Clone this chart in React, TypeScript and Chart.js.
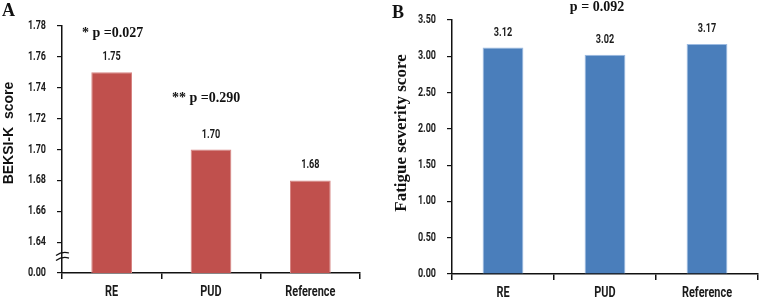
import React, { useEffect, useRef } from 'react';
import { Chart, registerables } from 'chart.js';

Chart.register(...registerables);

// ---- data ----
const categories = ['RE', 'PUD', 'Reference'];
const beksiValues = [1.75, 1.7, 1.68];
const fatigueValues = [3.12, 3.02, 3.17];
const beksiTickValues = [1.62, 1.64, 1.66, 1.68, 1.7, 1.72, 1.74, 1.76, 1.78];
const beksiTickLabels = ['0.00', '1.64', '1.66', '1.68', '1.70', '1.72', '1.74', '1.76', '1.78'];
const fatigueTickValues = [0, 0.5, 1, 1.5, 2, 2.5, 3, 3.5];
const fatigueTickLabels = ['0.00', '0.50', '1.00', '1.50', '2.00', '2.50', '3.00', '3.50'];
const beksiValueLabels = ['1.75', '1.70', '1.68'];
const fatigueValueLabels = ['3.12', '3.02', '3.17'];

const CSANS = "Roboto, 'Liberation Sans', sans-serif";
const SERIF = "'Liberation Serif', 'DejaVu Serif', serif";
const SANS = "'Liberation Sans', Arial, sans-serif";

const RED = '#C0504D';
const BLUE = '#4A7EBB';

function condensedText(
  ctx: CanvasRenderingContext2D,
  text: string,
  x: number,
  y: number,
  font: string,
  align: CanvasTextAlign,
  sx: number
) {
  ctx.save();
  ctx.translate(x, y);
  ctx.scale(sx, 1);
  ctx.font = font;
  ctx.fillStyle = '#1a1a1a';
  ctx.textAlign = align;
  ctx.textBaseline = 'middle';
  ctx.fillText(text, 0, 0);
  ctx.restore();
}

function drawAxisText(chart: any, tickLabels: string[], valueLabels: string[]) {
  const ctx: CanvasRenderingContext2D = chart.ctx;
  const xs = chart.scales.x;
  const ys = chart.scales.y;
  // y tick labels
  ys.ticks.forEach((t: any, i: number) => {
    condensedText(ctx, tickLabels[i], ys.right - 16, ys.getPixelForValue(t.value), `bold 12px ${CSANS}`, 'right', 0.75);
  });
  // x category labels
  categories.forEach((c, i) => {
    condensedText(ctx, c, xs.getPixelForValue(i), xs.top + 19, `bold 14px ${CSANS}`, 'center', 0.78);
  });
  // value labels
  const meta = chart.getDatasetMeta(0);
  meta.data.forEach((bar: any, i: number) => {
    condensedText(ctx, valueLabels[i], bar.x, bar.y - 15, `bold 12px ${CSANS}`, 'center', 0.76);
  });
}

function drawRotated(ctx: CanvasRenderingContext2D, text: string, x: number, y: number, font: string) {
  ctx.save();
  ctx.translate(x, y);
  ctx.rotate(-Math.PI / 2);
  ctx.font = font;
  ctx.fillStyle = '#111';
  ctx.textAlign = 'center';
  ctx.textBaseline = 'middle';
  ctx.fillText(text, 0, 0);
  ctx.restore();
}

const leftPlugin = {
  id: 'leftDecor',
  afterDraw(chart: any) {
    const ctx: CanvasRenderingContext2D = chart.ctx;
    drawAxisText(chart, beksiTickLabels, beksiValueLabels);
    drawRotated(ctx, 'BEKSI-K  score', 9, 133, `bold 14px ${SANS}`);
    ctx.save();
    ctx.fillStyle = '#111';
    ctx.textBaseline = 'middle';
    ctx.textAlign = 'left';
    ctx.font = `bold 18px ${SERIF}`;
    ctx.fillText('A', 2, 11);
    ctx.font = `bold 14px ${SERIF}`;
    ctx.fillText('* p =0.027', 82, 33);
    ctx.fillText('** p =0.290', 172, 98);
    // axis break mark
    const x0 = chart.chartArea.left;
    ctx.strokeStyle = '#111';
    ctx.lineWidth = 1.3;
    [254, 259].forEach((yy) => {
      ctx.beginPath();
      ctx.moveTo(x0 - 6, yy + 1.5);
      ctx.quadraticCurveTo(x0, yy - 3, x0 + 7, yy - 1);
      ctx.stroke();
    });
    ctx.restore();
  },
};

const rightPlugin = {
  id: 'rightDecor',
  afterDraw(chart: any) {
    const ctx: CanvasRenderingContext2D = chart.ctx;
    drawAxisText(chart, fatigueTickLabels, fatigueValueLabels);
    drawRotated(ctx, 'Fatigue severity score', 22, 133, `bold 17px ${SERIF}`);
    ctx.save();
    ctx.fillStyle = '#111';
    ctx.textBaseline = 'middle';
    ctx.textAlign = 'left';
    ctx.font = `bold 18px ${SERIF}`;
    ctx.fillText('B', 12, 13);
    ctx.textAlign = 'center';
    ctx.font = `bold 14px ${SERIF}`;
    ctx.fillText('p = 0.092', 217, 7);
    ctx.restore();
  },
};

function buildConfig(
  values: number[],
  color: string,
  border: string,
  tickValues: number[],
  yWidth: number,
  xHeight: number,
  padTop: number,
  padRight: number,
  barPct: number,
  plugin: any
): any {
  return {
    type: 'bar',
    data: {
      labels: categories,
      datasets: [
        {
          data: values,
          backgroundColor: color,
          borderColor: border,
          borderWidth: 1,
          barPercentage: barPct,
          categoryPercentage: 1,
        },
      ],
    },
    options: {
      responsive: false,
      animation: false,
      devicePixelRatio: 1,
      layout: { padding: { top: padTop, right: padRight, left: 0, bottom: 0 } },
      plugins: { legend: { display: false }, tooltip: { enabled: false }, title: { display: false } },
      scales: {
        x: {
          offset: true,
          border: { display: true, color: '#111', width: 1.5 },
          grid: {
            offset: true,
            drawOnChartArea: false,
            drawTicks: true,
            tickLength: 6,
            color: '#111',
            lineWidth: 1.5,
          },
          ticks: { display: false },
          afterFit(scale: any) {
            scale.height = xHeight;
          },
        },
        y: {
          min: tickValues[0],
          max: tickValues[tickValues.length - 1],
          border: { display: true, color: '#111', width: 1.5 },
          grid: {
            drawOnChartArea: false,
            drawTicks: true,
            tickLength: 5,
            color: '#111',
            lineWidth: 1.2,
          },
          ticks: { display: false },
          afterBuildTicks(scale: any) {
            scale.ticks = tickValues.map((v) => ({ value: v }));
          },
          afterFit(scale: any) {
            scale.width = yWidth;
          },
        },
      },
    },
    plugins: [plugin],
  };
}

function Panel(props: { config: any; width: number; left: number }) {
  const ref = useRef<HTMLCanvasElement | null>(null);
  useEffect(() => {
    if (!ref.current) return;
    const chart = new Chart(ref.current, props.config);
    return () => chart.destroy();
  }, []);
  return (
    <canvas
      ref={ref}
      width={props.width}
      height={300}
      style={{ position: 'absolute', left: props.left, top: 0, width: props.width, height: 300 }}
    />
  );
}

export default function App() {
  const leftConfig = buildConfig(beksiValues, RED, '#D68583', beksiTickValues, 62, 27, 26, 20, 0.41, leftPlugin);
  const rightConfig = buildConfig(fatigueValues, BLUE, '#9CBBE2', fatigueTickValues, 72, 26, 20, 3, 0.4, rightPlugin);
  return (
    <div style={{ position: 'fixed', left: 0, top: 0, width: 761, height: 300, background: '#fff' }}>
      <Panel config={leftConfig} width={380} left={0} />
      <Panel config={rightConfig} width={381} left={380} />
    </div>
  );
}
